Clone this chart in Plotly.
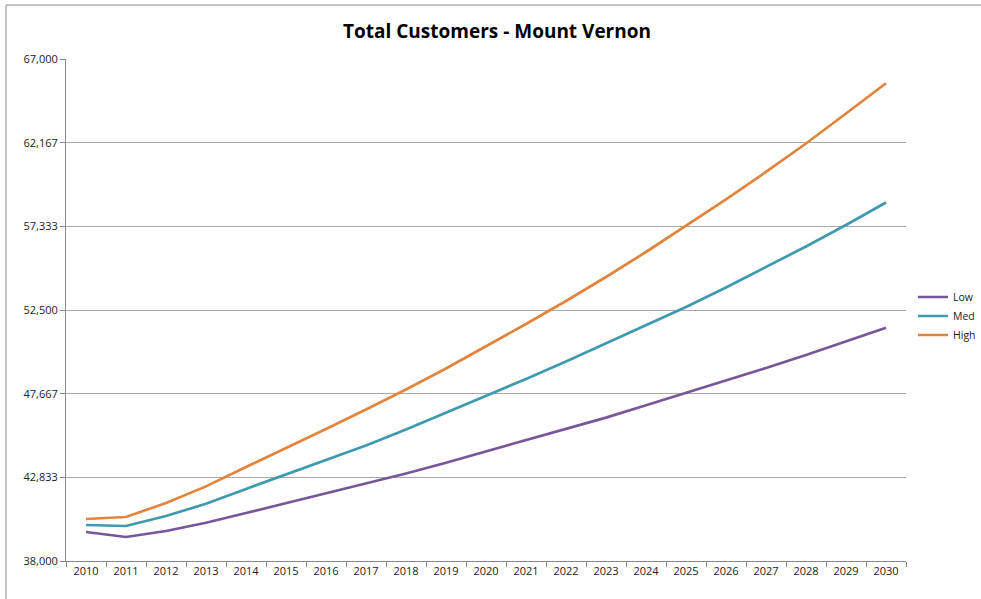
import plotly.graph_objects as go

years = [str(y) for y in range(2010, 2031)]

low = [39675, 39386, 39733, 40207, 40773, 41351, 41905, 42477, 43055, 43679,
       44332, 44979, 45631, 46284, 46995, 47705, 48404, 49150, 49901, 50680, 51478]
med = [40080, 40022, 40600, 41304, 42165, 43014, 43817, 44667, 45591, 46550,
       47532, 48514, 49525, 50565, 51605, 52674, 53800, 54984, 56169, 57411, 58711]
high = [40426, 40542, 41351, 42310, 43425, 44516, 45626, 46752, 47907, 49121,
        50392, 51692, 53020, 54407, 55851, 57353, 58884, 60473, 62119, 63852, 65597]

y_tick_vals = [38000, 42833.33, 47666.67, 52500, 57333.33, 62166.67, 67000]
y_tick_text = ["38,000", "42,833", "47,667", "52,500", "57,333", "62,167", "67,000"]

series = [("Low", low, "#76579a"), ("Med", med, "#3f9ab0"), ("High", high, "#e3843c")]

FONT = "Open Sans, Noto Sans, sans-serif"

fig = go.Figure()
for name, vals, color in series:
    fig.add_trace(go.Scatter(x=years, y=vals, name=name, mode="lines",
                             line=dict(color=color, width=2.7)))

fig.update_layout(
    width=981, height=599,
    margin=dict(l=66, r=75, t=59, b=38),
    paper_bgcolor="white", plot_bgcolor="white",
    font=dict(family=FONT, size=11, color="#222"),
    title=dict(text="<b>Total Customers - Mount Vernon</b>", x=497/981, xanchor="center",
               y=1 - 31/599, yanchor="middle", xref="container", yref="container",
               font=dict(size=19, color="black", family=FONT)),
    showlegend=True,
    legend=dict(xref="container", yref="container", x=913/981, y=(599 - 316)/599,
                xanchor="left", yanchor="middle",
                font=dict(size=10.5), bgcolor="rgba(0,0,0,0)",
                itemwidth=30, tracegroupgap=0),
    xaxis=dict(type="category", range=[-0.5, 20.5], showgrid=False,
               showline=True, linecolor="#888", linewidth=1,
               ticks="outside", ticklen=5, tickcolor="#888", tickson="boundaries",
               tickfont=dict(size=11), automargin=False),
    yaxis=dict(range=[38000, 67000], tickvals=y_tick_vals, ticktext=y_tick_text,
               showgrid=True, gridcolor="#a8a8a8", gridwidth=1,
               showline=True, linecolor="#888", linewidth=1,
               ticks="outside", ticklen=5, tickcolor="#888",
               tickfont=dict(size=11), zeroline=False, automargin=False),
)

# outer chart border (visible on the left and top)
fig.add_shape(type="rect", xref="paper", yref="paper",
              x0=(6 - 66) / 840, x1=(995 - 66) / 840,
              y0=(561 - 615) / 502, y1=(561 - 5) / 502,
              line=dict(color="#8a8a8a", width=1), fillcolor="rgba(0,0,0,0)", layer="below")

fig.write_html("out.html", config={"displayModeBar": False},
               post_script="document.body.style.margin='0';")
